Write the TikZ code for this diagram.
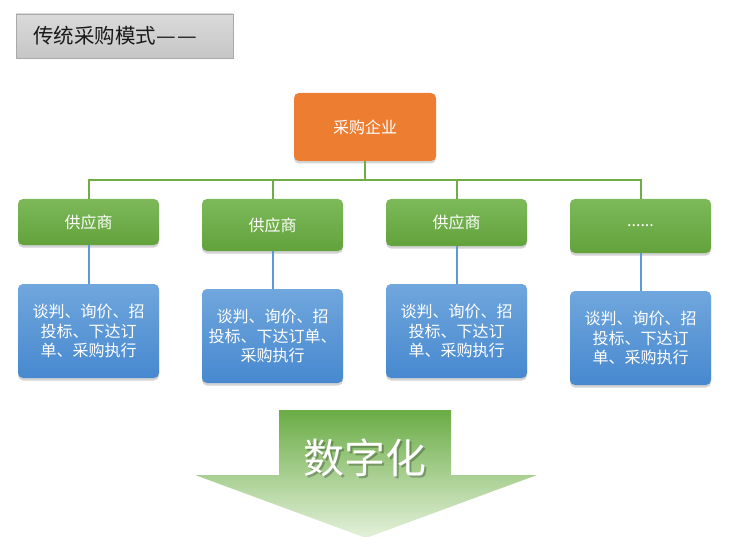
\documentclass[tikz,border=0pt]{standalone}
\usepackage{fontspec}
\usepackage{graphicx}
\newfontfamily\cjk{Noto Sans CJK SC}
\usetikzlibrary{shadows}
\newcommand\fwdash{\makebox[1.02em]{\resizebox{0.96em}{\height}{—}}}
\definecolor{orgfill}{HTML}{ED7D31}
\definecolor{gtop}{HTML}{7DB95A}
\definecolor{gbot}{HTML}{62A23B}
\definecolor{btop}{HTML}{70A7DD}
\definecolor{bbot}{HTML}{4788CF}
\definecolor{gline}{HTML}{70AD47}
\definecolor{bline}{HTML}{5B9BD5}
\definecolor{ttop}{HTML}{DADADA}
\definecolor{tbot}{HTML}{C6C6C6}
\definecolor{tborder}{HTML}{A9A9A9}
\definecolor{atop}{HTML}{6AAC45}
\definecolor{amid}{HTML}{A9D18E}
\definecolor{abot}{HTML}{E4F1DB}
\begin{document}
\begin{tikzpicture}[x=1pt,y=-1pt,
  box/.style={rounded corners=5pt, minimum width=141pt, inner sep=0pt,
    text=white, align=center, font=\cjk\fontsize{16}{19.5}\selectfont,
    drop shadow={opacity=0.35, shadow xshift=0pt, shadow yshift=-2.5pt}},
  gbox/.style={box, top color=gtop, bottom color=gbot},
  bbox/.style={box, top color=btop, bottom color=bbot},
  gconn/.style={draw=gline, line width=2pt},
  bconn/.style={draw=bline, line width=2pt},
  titlebox/.style={draw=tborder, line width=0.8pt, top color=ttop, bottom color=tbot,
    minimum width=217pt, minimum height=44pt, inner xsep=17pt, text width=183pt,
    align=left, font=\cjk\fontsize{20.5}{24}\selectfont, text=black!90}
]
\useasboundingbox (0,0) rectangle (730,537);

% title
\node[titlebox] (title) at (124.5,36) {传统采购模式\fwdash\fwdash};

% arrow
\path[top color=atop, middle color=amid, bottom color=abot]
  (279,410) -- (451,410) -- (451,475) -- (537,475) -- (366,538) -- (195,475) -- (279,475) -- cycle;
\node[font=\cjk\fontsize{41}{45}\selectfont, text=black, opacity=0.25] (digshadow) at (366.5,459.5) {数字化};
\node[font=\cjk\fontsize{41}{45}\selectfont, text=white] (dig) at (365,458) {数字化};

% top node
\node[box, fill=orgfill, minimum width=142pt, minimum height=68pt] (org) at (365,127) {采购企业};

% suppliers
\node[gbox, minimum height=46pt] (g1) at (88.5,222) {供应商};
\node[gbox, minimum height=52pt] (g2) at (272.5,225) {供应商};
\node[gbox, minimum height=47pt] (g3) at (456.5,222.5) {供应商};
\node[gbox, minimum height=54pt] (g4) at (640.5,226) {......};

% tasks
\node[bbox, minimum height=94pt] (b1) at (88.5,331) {谈判、询价、招\\投标、下达订\\单、采购执行};
\node[bbox, minimum height=94pt] (b2) at (272.5,336) {谈判、询价、招\\投标、下达订单、\\采购执行};
\node[bbox, minimum height=94pt] (b3) at (456.5,331) {谈判、询价、招\\投标、下达订\\单、采购执行};
\node[bbox, minimum height=94pt] (b4) at (640.5,338) {谈判、询价、招\\投标、下达订\\单、采购执行};

% connectors
\coordinate (bus) at (0,180);
\draw[gconn] (org.south) -- (org.south |- bus);
\draw[gconn] (g1.north) -- (g1.north |- bus) -- (g4.north |- bus) -- (g4.north);
\draw[gconn] (g2.north) -- (g2.north |- bus);
\draw[gconn] (g3.north) -- (g3.north |- bus);
\draw[bconn] (g1.south) -- (b1.north);
\draw[bconn] (g2.south) -- (b2.north);
\draw[bconn] (g3.south) -- (b3.north);
\draw[bconn] (g4.south) -- (b4.north);
\end{tikzpicture}
\end{document}
